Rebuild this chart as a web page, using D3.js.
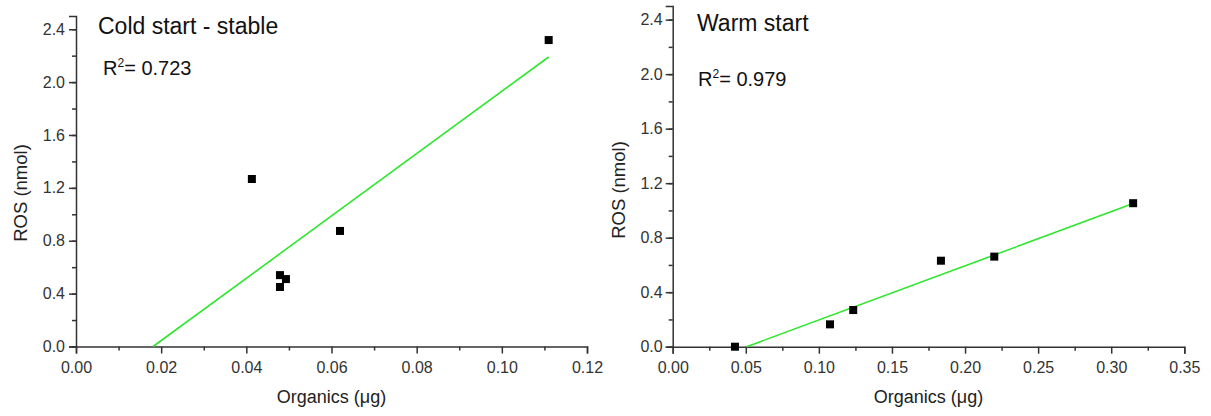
<!DOCTYPE html>
<html>
<head>
<meta charset="utf-8">
<script src="https://cdn.jsdelivr.net/npm/d3@7"></script>
<style>
  body { margin: 0; background: #fff; }
  svg { display: block; font-family: "Liberation Sans", Arial, sans-serif; }
  .axis path, .axis line { stroke: #333; stroke-width: 1.5px; }
  .axis text { fill: #333; font-size: 16px; }
</style>
</head>
<body>
<svg width="1211" height="416"></svg>
<script>
// left panel: cold start - stable
const coldX = [0.0413, 0.0479, 0.0493, 0.0479, 0.0620, 0.1110];
const coldY = [1.267, 0.540, 0.510, 0.450, 0.874, 2.318];
const coldFitX = [0.0181, 0.1110];
const coldFitY = [0.0, 2.19];
const coldXTicks = [0, 0.02, 0.04, 0.06, 0.08, 0.10, 0.12];

// right panel: warm start
const warmX = [0.0426, 0.1076, 0.1235, 0.1835, 0.2200, 0.3150];
const warmY = [0.000, 0.164, 0.269, 0.631, 0.661, 1.053];
const warmFitX = [0.0506, 0.3150];
const warmFitY = [0.0, 1.05];
const warmXTicks = [0, 0.05, 0.10, 0.15, 0.20, 0.25, 0.30, 0.35];

const yTicks = [0, 0.4, 0.8, 1.2, 1.6, 2.0, 2.4];

const svg = d3.select('svg');

function drawPanel(p) {
  const x = d3.scaleLinear().domain(p.xDomain).range([p.left, p.right]);
  const y = d3.scaleLinear().domain([0, 2.5]).range([p.bottom, p.top]);
  const g = svg.append('g');

  // minor ticks
  g.append('g').attr('class', 'axis')
    .attr('transform', `translate(0,${p.bottom})`)
    .call(d3.axisBottom(x).tickValues(p.xMinor).tickSize(4).tickFormat(''))
    .select('.domain').remove();
  g.append('g').attr('class', 'axis')
    .attr('transform', `translate(${p.left},0)`)
    .call(d3.axisLeft(y).tickValues(d3.range(0, 2.41, 0.2)).tickSize(4).tickFormat(''))
    .select('.domain').remove();

  // major axes
  g.append('g').attr('class', 'axis')
    .attr('transform', `translate(0,${p.bottom})`)
    .call(d3.axisBottom(x).tickValues(p.xTicks).tickSizeOuter(0).tickSize(7).tickPadding(8)
      .tickFormat(p.xFmt));
  g.append('g').attr('class', 'axis')
    .attr('transform', `translate(${p.left},0)`)
    .call(d3.axisLeft(y).tickValues(yTicks).tickSizeOuter(0).tickSize(7).tickPadding(p.yPad)
      .tickFormat(d3.format('.1f')));

  // fit line
  const fit = p.fitX.map((v, i) => [v, p.fitY[i]]);
  g.append('path')
    .datum(fit)
    .attr('d', d3.line().x(d => x(d[0])).y(d => y(d[1])))
    .attr('fill', 'none')
    .attr('stroke', '#2ee62e')
    .attr('stroke-width', 1.6);

  // points
  const pts = p.xs.map((v, i) => [v, p.ys[i]]);
  g.selectAll('.pt')
    .data(pts)
    .enter()
    .append('rect')
    .attr('class', 'pt')
    .attr('x', d => x(d[0]) - 4)
    .attr('y', d => y(d[1]) - 4)
    .attr('width', 8)
    .attr('height', 8)
    .attr('fill', '#000');

  // titles
  g.append('text')
    .attr('x', p.titlePos[0]).attr('y', p.titlePos[1])
    .attr('font-size', 23).attr('fill', '#111')
    .text(p.title);

  const r2 = g.append('text')
    .attr('x', p.r2Pos[0]).attr('y', p.r2Pos[1])
    .attr('font-size', 20).attr('fill', '#111');
  r2.append('tspan').text('R');
  r2.append('tspan').attr('font-size', 12).attr('dy', -8).text('2');
  r2.append('tspan').attr('dy', 8).text('= ' + p.r2);

  g.append('text')
    .attr('x', (p.left + p.right) / 2).attr('y', 403)
    .attr('text-anchor', 'middle')
    .attr('font-size', 18).attr('fill', '#222')
    .text('Organics (\u03bcg)');

  g.append('text')
    .attr('transform', `translate(${p.yTitleX},${p.yTitleY}) rotate(-90)`)
    .attr('text-anchor', 'middle')
    .attr('font-size', 18.5).attr('fill', '#222')
    .text('ROS (nmol)');
}

drawPanel({
  xDomain: [0, 0.12], left: 76, right: 587, top: 16, bottom: 346.5,
  xTicks: coldXTicks, xMinor: d3.range(0.01, 0.12, 0.02), xFmt: d3.format('.2f'),
  yPad: 4,
  xs: coldX, ys: coldY, fitX: coldFitX, fitY: coldFitY,
  title: 'Cold start - stable', titlePos: [98, 34],
  r2: '0.723', r2Pos: [103, 75],
  yTitleX: 27, yTitleY: 193
});

drawPanel({
  xDomain: [0, 0.35], left: 672.7, right: 1184.3, top: 6, bottom: 346.7,
  xTicks: warmXTicks, xMinor: d3.range(0.025, 0.35, 0.05), xFmt: d3.format('.2f'),
  yPad: 3,
  xs: warmX, ys: warmY, fitX: warmFitX, fitY: warmFitY,
  title: 'Warm start', titlePos: [697, 31],
  r2: '0.979', r2Pos: [698, 86],
  yTitleX: 625, yTitleY: 190
});
</script>
</body>
</html>
